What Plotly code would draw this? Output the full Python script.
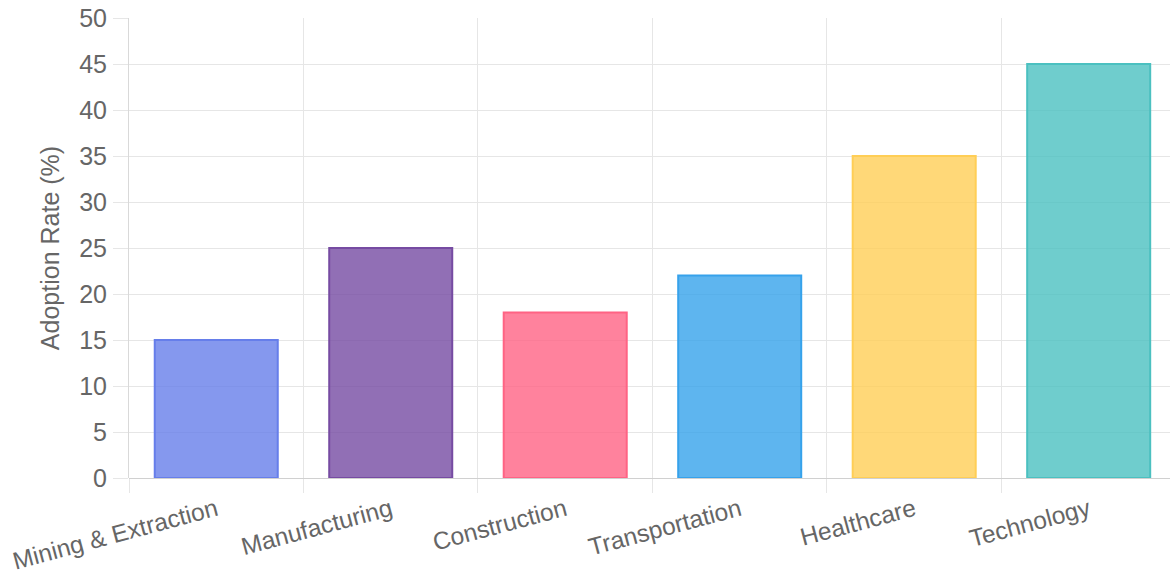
import plotly.graph_objects as go

categories = ["Mining & Extraction", "Manufacturing", "Construction", "Transportation", "Healthcare", "Technology"]
adoption_rate = [15, 25, 18, 22, 35, 45]
fill_colors = ["rgba(102,126,234,0.8)", "rgba(118,75,162,0.8)", "rgba(255,99,132,0.8)",
               "rgba(54,162,235,0.8)", "rgba(255,206,86,0.8)", "rgba(75,192,192,0.8)"]
border_colors = ["#667eea", "#764ba2", "#ff6384", "#36a2eb", "#ffce56", "#4bc0c0"]
y_ticks = [0, 5, 10, 15, 20, 25, 30, 35, 40, 45, 50]

fig = go.Figure(go.Bar(
    x=categories, y=adoption_rate,
    marker=dict(color=fill_colors, line=dict(color=border_colors, width=2)),
    hoverinfo="x+y",
))

grid = "#e6e6e6"
fig.update_layout(
    width=1170, height=577,
    margin=dict(l=129, r=0, t=18, b=99),
    paper_bgcolor="white", plot_bgcolor="white",
    font=dict(family="Liberation Sans, Arial, sans-serif", size=25, color="#666"),
    bargap=0.295,
    showlegend=False,
)
fig.update_xaxes(
    range=[-0.5, 5.466],
    tickson="boundaries", showgrid=True, gridcolor=grid, gridwidth=1,
    ticks="outside", ticklen=14, tickcolor=grid, tickangle=-15,
    ticklabelstandoff=12, automargin=False,
    showline=False, tickfont=dict(size=24.5, color="#666"),
)
fig.update_yaxes(
    range=[0, 50], tickvals=y_ticks, showgrid=True, gridcolor=grid, gridwidth=1,
    ticks="outside", ticklen=15, tickcolor=grid,
    zeroline=True, zerolinecolor="#d0d0d0", zerolinewidth=1,
    showline=True, linecolor="#d9d9d9", linewidth=1,
    tickfont=dict(size=25, color="#666"),
    ticklabelstandoff=1, automargin=False,
    title=dict(text="Adoption Rate (%)", font=dict(size=25, color="#666"), standoff=12),
)

fig.write_html("out.html")
